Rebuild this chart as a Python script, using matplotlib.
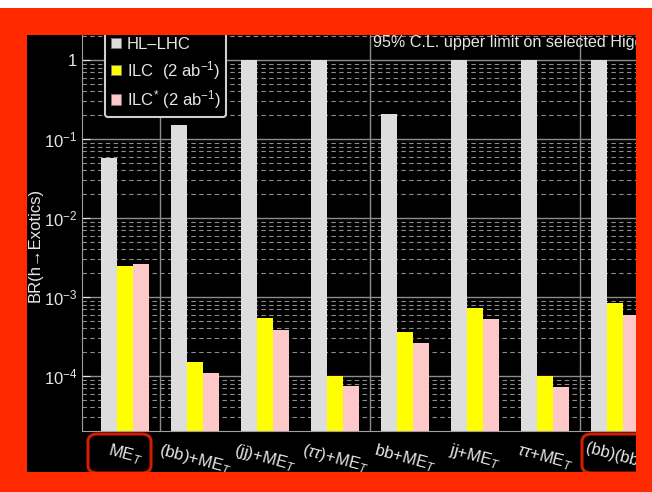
import matplotlib
matplotlib.use("Agg")
import matplotlib.pyplot as plt
import numpy as np
from matplotlib.patches import Patch, Rectangle, FancyBboxPatch

plt.rcParams['font.family'] = ['Liberation Sans', 'DejaVu Sans']
plt.rcParams['mathtext.fontset'] = 'custom'
plt.rcParams['mathtext.rm'] = 'Liberation Sans'
plt.rcParams['mathtext.it'] = 'Liberation Sans:italic'

# data
channels = ["ME$_T$", "(bb)+ME$_T$", "(jj)+ME$_T$", r"($\tau\tau$)+ME$_T$",
            "bb+ME$_T$", "jj+ME$_T$", r"$\tau\tau$+ME$_T$", "(bb)(bb)"]
hl_lhc = [0.057, 0.15, 1.0, 1.0, 0.21, 1.0, 1.0, 1.0]
ilc = [2.5e-3, 1.5e-4, 5.4e-4, 1.0e-4, 3.6e-4, 7.2e-4, 1.0e-4, 8.4e-4]
ilc_star = [2.6e-3, 1.1e-4, 3.8e-4, 7.5e-5, 2.6e-4, 5.2e-4, 7.3e-5, 6.0e-4]
series_labels = ["HL–LHC", "ILC  (2 ab$^{-1}$)", "ILC$^{*}$ (2 ab$^{-1}$)"]
ytick_vals = [1, 1e-1, 1e-2, 1e-3, 1e-4]
ytick_labels = ["1", "$10^{-1}$", "$10^{-2}$", "$10^{-3}$", "$10^{-4}$"]

COLORS = ["#dddddd", "#ffff00", "#ffc8c8"]
FG = "#e6e6e6"
GRID = "#8c8c8c"
RED = "#ff2a00"

W, H = 652, 492


def fx(x):
    return x / W


def fy(y):
    return 1 - y / H


fig = plt.figure(figsize=(W / 100, H / 100), dpi=100, facecolor="black")
ax = fig.add_axes([fx(82), fy(431), (636 - 82) / W, (431 - 35) / H])
ax.set_facecolor("black")

x = np.arange(len(channels))
bw = 16 / 70
for i, (vals, c) in enumerate(zip([hl_lhc, ilc, ilc_star], COLORS)):
    ax.bar(x + (i - 1) * bw, vals, width=bw, color=c, zorder=2)

ax.set_yscale("log")
ax.set_ylim(10 ** -4.696, 10 ** (25 / 79))
ax.set_xlim(-43 / 70, 511 / 70)

ax.set_yticks(ytick_vals)
ax.set_yticklabels(ytick_labels)
ax.set_xticks(x)
ax.set_xticklabels(channels, rotation=-15, ha="center", va="top")
ax.tick_params(axis="x", colors=FG, labelsize=12, length=4, direction="in", pad=7)
ax.tick_params(axis="y", which="major", colors=FG, labelsize=12, length=6, direction="in")
ax.tick_params(axis="y", which="minor", color=GRID, length=3, direction="in")
for lab in ax.get_xticklabels() + ax.get_yticklabels():
    lab.set_color(FG)

ax.grid(True, axis="y", which="major", color=GRID, linewidth=1, zorder=0)
ax.grid(True, axis="y", which="minor", color=GRID, linewidth=0.8,
        linestyle=(0, (4, 3)), zorder=0)
for xv in [0.5, 3.5, 6.5]:
    ax.axvline(xv, color=GRID, linewidth=1, zorder=0)
ax.set_axisbelow(True)

for s in ["top", "right"]:
    ax.spines[s].set_visible(False)
for s in ["left", "bottom"]:
    ax.spines[s].set_color("#a0a0a0")

# the reference is cropped at the right, so this title runs under the frame
ax.text(fx(373), fy(42), "95% C.L. upper limit on selected Higgs Exotic Decay BR",
        transform=fig.transFigure, color=FG, fontsize=11.6, va="center", ha="left")

fig.text(fx(35), fy(245), "BR(h→Exotics)", rotation=90, color=FG,
         fontsize=12, ha="center", va="center")

handles = [Patch(facecolor=c, edgecolor="#777777", linewidth=0.6) for c in COLORS]
leg = ax.legend(handles, series_labels, loc="lower left",
                bbox_to_anchor=(fx(105), fy(117)), bbox_transform=fig.transFigure,
                borderaxespad=0, fontsize=12, labelspacing=0.4,
                handlelength=0.6, handleheight=0.6, handletextpad=0.35,
                facecolor="black", edgecolor="#cfcfcf", framealpha=1,
                fancybox=True, borderpad=0.35)
leg.get_frame().set_linewidth(1.5)
for t in leg.get_texts():
    t.set_color(FG)

# red highlight boxes around two channel labels
for (x0, x1) in [(88, 151), (582, 660)]:
    fig.add_artist(FancyBboxPatch((fx(x0), fy(473)), fx(x1 - x0), (473 - 434) / H,
                                  boxstyle="round,pad=0,rounding_size=0.015",
                                  transform=fig.transFigure, facecolor="none",
                                  edgecolor="#d01e00", linewidth=2.2, zorder=9))

# surrounding frame
frame = [(0, 0, W, 8, "white"), (0, 8, W, 27, RED), (0, 8, 27, H - 8, RED),
         (636, 8, W - 636, H - 8, RED), (0, 472, W, H - 472, RED)]
for (x0, y0, w, h, c) in frame:
    fig.add_artist(Rectangle((fx(x0), fy(y0 + h)), w / W, h / H,
                             transform=fig.transFigure, facecolor=c,
                             edgecolor="none", zorder=10))

fig.savefig("out.png", dpi=100, facecolor=fig.get_facecolor())
